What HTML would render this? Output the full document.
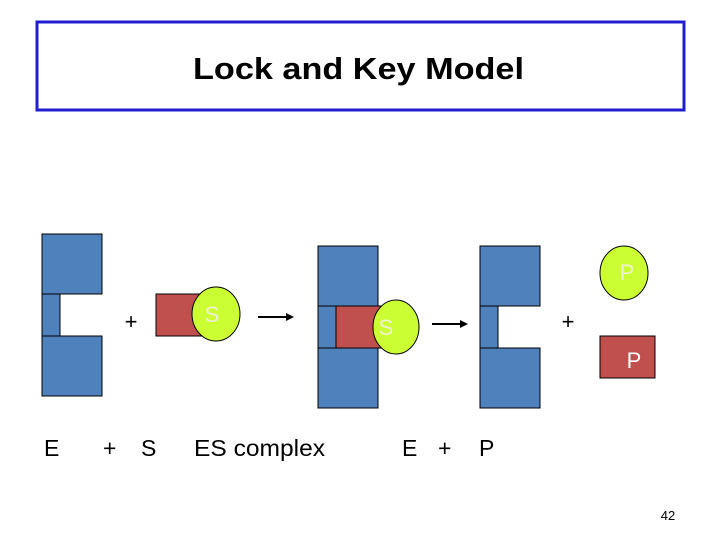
<!DOCTYPE html>
<html><head><style>
body{margin:0;background:#fff;}
svg{display:block;}
</style></head><body>
<svg width="720" height="540" viewBox="0 0 720 540" xmlns="http://www.w3.org/2000/svg" font-family="Liberation Sans, sans-serif">
<rect x="37" y="22" width="647" height="88" fill="#fff" stroke="#1f1fd0" stroke-width="3"/>
<text x="193" y="79" font-size="31" font-weight="bold" fill="#000" textLength="331" lengthAdjust="spacingAndGlyphs">Lock and Key Model</text>
<g fill="#4f81bd" stroke="#000" stroke-width="1">
<rect x="42" y="234" width="60" height="60"/><rect x="42" y="294" width="18" height="42"/><rect x="42" y="336" width="60" height="60"/>
<rect x="318" y="246" width="60" height="60"/><rect x="318" y="306" width="18" height="42"/><rect x="318" y="348" width="60" height="60"/>
<rect x="480" y="246" width="60" height="60"/><rect x="480" y="306" width="18" height="42"/><rect x="480" y="348" width="60" height="60"/>
</g>
<g fill="#c0504d" stroke="#000" stroke-width="1">
<rect x="156" y="294" width="46" height="42"/>
<rect x="336" y="306" width="46" height="42"/>
<rect x="600" y="336" width="55" height="42"/>
</g>
<g fill="#ccff33" stroke="#000" stroke-width="1">
<ellipse cx="216" cy="314" rx="24" ry="27"/>
<ellipse cx="396" cy="327" rx="23" ry="27"/>
<ellipse cx="624" cy="273" rx="24" ry="27"/>
</g>
<g fill="#f0f0d0" font-size="22">
<text x="212" y="322" text-anchor="middle">S</text>
<text x="386" y="335" text-anchor="middle">S</text>
<text x="627" y="280" text-anchor="middle">P</text>
<text x="634" y="368" text-anchor="middle" fill="#fff">P</text>
</g>
<g font-size="22" fill="#000">
<text x="131" y="329" text-anchor="middle">+</text>
<text x="568" y="329" text-anchor="middle">+</text>
</g>
<g stroke="#000" stroke-width="2"><line x1="258" y1="317" x2="288" y2="317"/><line x1="432" y1="324" x2="462" y2="324"/></g>
<polygon points="294,317 286,313 286,321" fill="#000"/>
<polygon points="468,324 460,320 460,328" fill="#000"/>
<g font-size="23" fill="#000">
<text x="44" y="456">E</text>
<text x="103" y="456">+</text>
<text x="141" y="456">S</text>
<text x="194" y="456" textLength="131" lengthAdjust="spacingAndGlyphs">ES complex</text>
<text x="402" y="456">E</text>
<text x="438" y="456">+</text>
<text x="479" y="456">P</text>
</g>
<text x="668" y="520" font-size="13" fill="#000" text-anchor="middle">42</text>
</svg>
</body></html>
